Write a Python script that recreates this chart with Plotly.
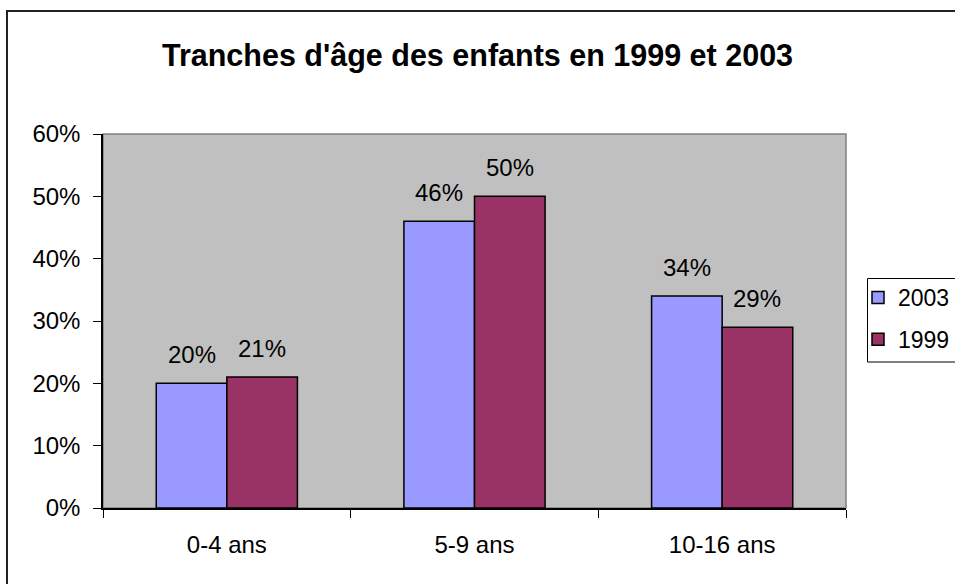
import plotly.graph_objects as go

categories = ["0-4 ans", "5-9 ans", "10-16 ans"]
values_2003 = [0.20, 0.46, 0.34]
values_1999 = [0.21, 0.50, 0.29]
series_names = ["2003", "1999"]
title_text = "Tranches d'âge des enfants en 1999 et 2003"

FONT = "Liberation Sans, Arial, sans-serif"
W, H = 955, 584
L, R, T, B = 103, 955 - 846, 134, 584 - 508
pw = W - L - R
ph = H - T - B


def px_x(X):
    return (X - L) / pw


def px_y(Y):
    return (H - B - Y) / ph


fig = go.Figure()
fig.add_trace(go.Bar(x=categories, y=values_2003, name=series_names[0],
                     marker=dict(color="#9999FF", line=dict(color="black", width=1.5)),
                     legendgroup="a"))
fig.add_trace(go.Bar(x=categories, y=values_1999, name=series_names[1],
                     marker=dict(color="#993366", line=dict(color="black", width=1.5)),
                     legendgroup="b"))

# data labels
bw = (1 - 0.43) / 2
for vals, off in ((values_2003, -bw / 2), (values_1999, bw / 2)):
    for i, v in enumerate(vals):
        fig.add_annotation(x=i + off, y=v, text=f"{round(v*100)}%", showarrow=False,
                           xref="x", yref="y", yanchor="bottom", yshift=13,
                           font=dict(family=FONT, size=24, color="black"))

# outer chart border (cropped at right and bottom)
fig.add_shape(type="rect", xref="paper", yref="paper",
              x0=px_x(7), x1=px_x(975), y0=px_y(600), y1=px_y(11),
              line=dict(color="#222", width=2), fillcolor="rgba(0,0,0,0)", layer="below")
# plot area border (top/right gray)
fig.add_shape(type="rect", xref="paper", yref="paper", x0=0, x1=1, y0=0, y1=1,
              line=dict(color="#808080", width=1.5), fillcolor="rgba(0,0,0,0)", layer="below")
# legend box
fig.add_shape(type="rect", xref="paper", yref="paper",
              x0=px_x(867.5), x1=px_x(975), y0=px_y(362), y1=px_y(278.5),
              line=dict(color="black", width=1), fillcolor="rgba(0,0,0,0)")

fig.update_layout(
    width=W, height=H,
    margin=dict(l=L, r=R, t=T, b=B, autoexpand=False),
    paper_bgcolor="white", plot_bgcolor="#C0C0C0",
    barmode="group", bargap=0.43, bargroupgap=0,
    title=dict(text=f"<b>{title_text}</b>", x=0.5, xanchor="center",
               y=1 - 55 / H, yanchor="middle", yref="container",
               font=dict(family=FONT, size=30.5, color="black")),
    font=dict(family=FONT, size=24, color="black"),
    showlegend=True,
    legend=dict(x=px_x(858), xanchor="left", y=px_y(276), yanchor="top",
                borderwidth=0, bgcolor="rgba(0,0,0,0)",
                font=dict(family=FONT, size=23, color="black"),
                traceorder="grouped", tracegroupgap=9, itemwidth=30),
    xaxis=dict(showline=True, linecolor="black", linewidth=1.5, ticks="outside",
               ticklen=8, tickcolor="black", tickson="boundaries", showgrid=False,
               ticklabelstandoff=14, tickfont=dict(size=24)),
    yaxis=dict(range=[0, 0.6], dtick=0.1, tickformat=".0%", showline=True,
               linecolor="black", linewidth=1.5, ticks="outside", ticklen=8,
               tickcolor="black", showgrid=False, zeroline=False,
               ticklabelstandoff=8, tickfont=dict(size=24)),
)

fig.write_html("out.html", config={"displayModeBar": False},
               post_script="document.body.style.margin='0px';")
